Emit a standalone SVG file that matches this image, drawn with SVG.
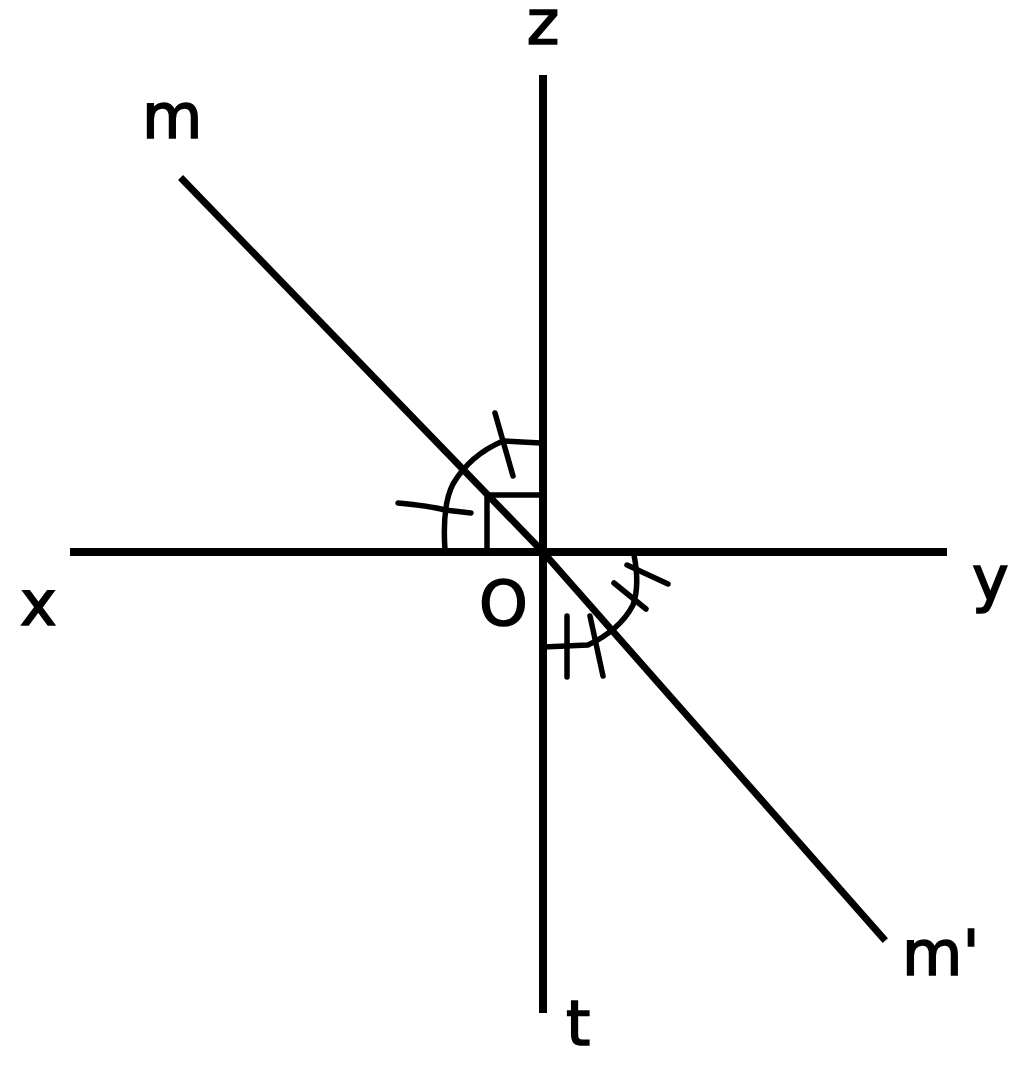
<svg xmlns="http://www.w3.org/2000/svg" width="1024" height="1073" viewBox="0 0 1024 1073">
<style>
.ax{stroke:#000;stroke-width:8;fill:none;stroke-linecap:butt}
.ln{stroke:#000;stroke-width:7;fill:none;stroke-linecap:square;stroke-linejoin:round}
.mk{stroke:#000;stroke-width:5.5;fill:none;stroke-linecap:round;stroke-linejoin:round}
.lb{font-family:"DejaVu Sans","Liberation Sans",sans-serif;font-size:62px;fill:#000;stroke:#000;stroke-width:1.6}
</style>
<rect width="1024" height="1073" fill="#fff"/>
<g id="connectors">
  <line class="ax" x1="543" y1="75" x2="543" y2="1013"/>
  <line class="ax" x1="70" y1="552" x2="947" y2="552"/>
  <polyline class="ln" points="183,180 543,552 883,938"/>
</g>
<g id="right-angle">
  <polyline class="mk" points="487,552 487,495 543,495"/>
</g>
<g id="angle-mOz-xOm">
  <path class="mk" d="M 541 443 L 503 441 Q 470 455 453 484 Q 442 505 445 550"/>
  <line class="mk" x1="495" y1="413" x2="513" y2="476"/>
  <path class="mk" d="M 398 503 Q 430 506 445 510 L 471 513"/>
</g>
<g id="angle-tOm-m-Oy">
  <path class="mk" d="M 543 647 L 588 645 Q 620 630 633 605 Q 640 585 634 555"/>
  <line class="mk" x1="567" y1="616" x2="567" y2="677"/>
  <line class="mk" x1="590" y1="616" x2="603" y2="676"/>
  <line class="mk" x1="614" y1="583" x2="646" y2="609"/>
  <line class="mk" x1="627" y1="565" x2="668" y2="584"/>
</g>
<g id="labels">
  <text id="label-z" class="lb" x="543" y="44" text-anchor="middle">z</text>
  <text id="label-m" class="lb" x="142" y="138">m</text>
  <text id="label-x" class="lb" x="20" y="625">x</text>
  <text id="label-O" class="lb" x="479" y="625">O</text>
  <text id="label-y" class="lb" x="972" y="600">y</text>
  <text id="label-m2" class="lb" x="902" y="975">m'</text>
  <text id="label-t" class="lb" x="566" y="1045">t</text>
</g>
</svg>
